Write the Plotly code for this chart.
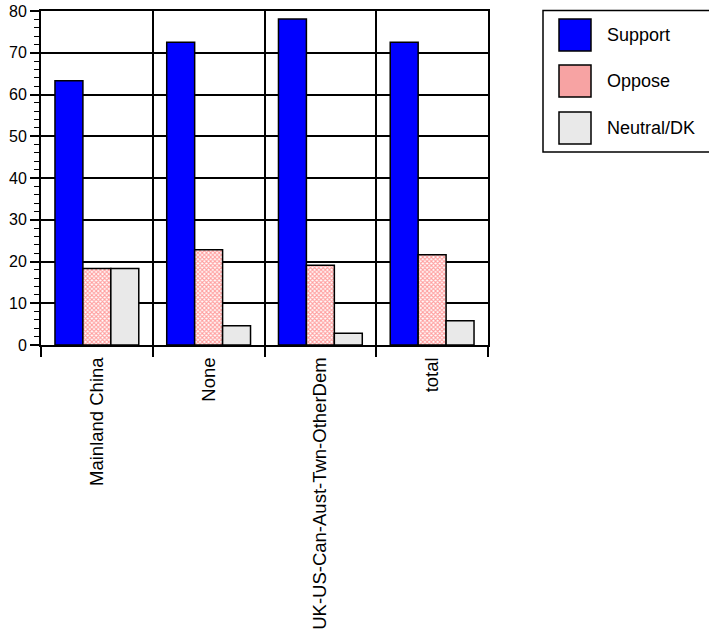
import plotly.graph_objects as go

categories = ["Mainland China", "None", "UK-US-Can-Aust-Twn-OtherDem", "total"]
series_names = ["Support", "Oppose", "Neutral/DK"]
support = [63.3, 72.5, 78.1, 72.5]
oppose = [18.3, 22.8, 19.1, 21.6]
neutral = [18.3, 4.6, 2.8, 5.8]
y_ticks = [0, 10, 20, 30, 40, 50, 60, 70, 80]

FONT = "Arial, Liberation Sans, sans-serif"
W, H = 709, 630
L, R, T, B = 41, 488, 11, 345

fig = go.Figure()
line = dict(color="black", width=1.5)
fig.add_bar(x=categories, y=support, name=series_names[0],
            marker=dict(color="#0000ff", line=line))
fig.add_bar(x=categories, y=oppose, name=series_names[1],
            marker=dict(color="white", line=line,
                        pattern=dict(shape="x", fgcolor="#ff4040", bgcolor="white",
                                     size=3, solidity=0.6)))
fig.add_bar(x=categories, y=neutral, name=series_names[2],
            marker=dict(color="#e9e9e9", line=line))

# custom legend (large swatches); coordinates in page pixels
def xp(px):
    return (px - L) / (R - L)

def yp(py):
    return (B - py) / (B - T)

shapes = [dict(type="rect", xref="paper", yref="paper", x0=xp(543), x1=xp(720),
               y0=yp(152), y1=yp(10.5), line=dict(color="black", width=1.5),
               fillcolor="white")]
sw_fill = ["#0000ff", "#f7a3a3", "#e9e9e9"]
sw_top = [19, 65, 112]
annotations = []
for name, fc, top in zip(series_names, sw_fill, sw_top):
    shapes.append(dict(type="rect", xref="paper", yref="paper", x0=xp(559), x1=xp(591),
                       y0=yp(top + 32), y1=yp(top), line=dict(color="black", width=1.5),
                       fillcolor=fc))
    annotations.append(dict(xref="paper", yref="paper", x=xp(605), y=yp(top + 16),
                            text=name, showarrow=False, xanchor="left", yanchor="middle",
                            font=dict(family=FONT, size=18, color="black")))

fig.update_layout(
    width=W, height=H,
    margin=dict(l=L, r=W - R, t=T, b=H - B, autoexpand=False),
    paper_bgcolor="white", plot_bgcolor="white",
    barmode="group", bargap=0.25, bargroupgap=0,
    showlegend=False,
    font=dict(family=FONT, color="black"),
    shapes=shapes, annotations=annotations,
)
fig.update_xaxes(
    type="category", tickson="boundaries", ticks="outside", ticklen=10,
    tickwidth=1.5, tickcolor="black", tickangle=-90, ticklabelstandoff=3,
    tickfont=dict(family=FONT, size=18.5, color="black"),
    showgrid=True, gridcolor="black", gridwidth=1.5,
    showline=True, linecolor="black", linewidth=2, mirror=True,
    automargin=False,
)
fig.update_yaxes(
    range=[0, 80], tickvals=y_ticks, ticks="outside", ticklen=9,
    tickwidth=1.5, tickcolor="black", ticklabeloverflow="allow",
    tickfont=dict(family=FONT, size=16, color="black"),
    minor=dict(dtick=2, ticks="outside", ticklen=5, tickwidth=1, tickcolor="black",
               showgrid=False),
    showgrid=True, gridcolor="black", gridwidth=1.5,
    showline=True, linecolor="black", linewidth=2, mirror=True,
    zeroline=False, automargin=False,
)
fig.write_html("out.html", config={"displayModeBar": False},
               post_script="document.body.style.margin='0px';document.body.style.overflow='hidden';")
